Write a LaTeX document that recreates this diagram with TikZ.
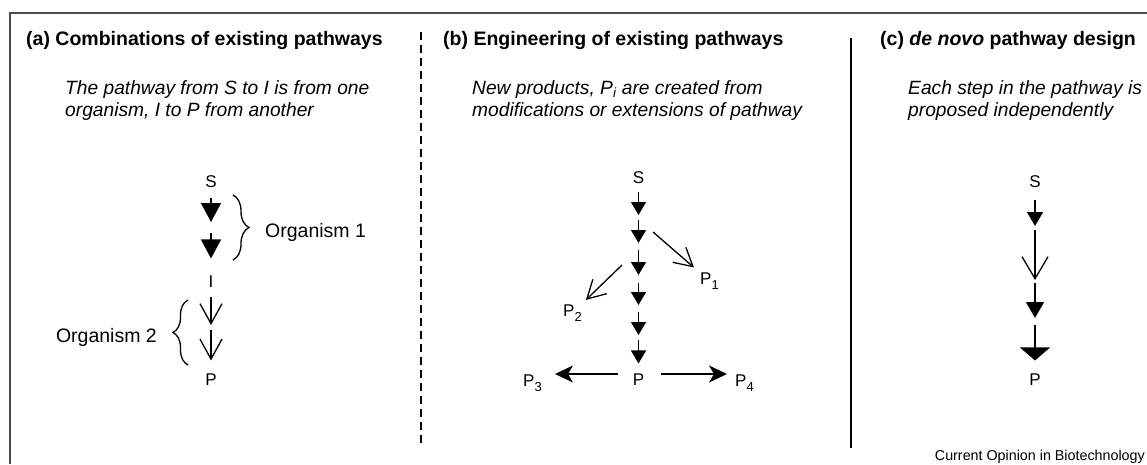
\documentclass[tikz,border=0pt]{standalone}
\usepackage{fontspec}
\setmainfont{Liberation Sans}
\usetikzlibrary{arrows.meta,decorations.pathreplacing}
\newcommand{\lowsub}[1]{\raisebox{-5.5pt}{\fontsize{13}{14}\selectfont #1}}
\begin{document}
\begin{tikzpicture}[x=1pt,y=-1pt,
  lbl/.style={inner sep=0pt, font=\fontsize{17}{20}\selectfont},
  ttl/.style={inner sep=0pt, anchor=base west, font=\fontsize{19.5}{22}\selectfont\bfseries},
  sub/.style={inner sep=0pt, anchor=north west, align=left, font=\fontsize{19.2}{22}\selectfont\itshape},
  orgl/.style={inner sep=0pt, font=\fontsize{19.5}{22}\selectfont},
  stem/.style={line width=1.4pt},
  fa/.style={stem, -{Triangle[length=19pt,width=20pt]}},
  oa/.style={line width=1.3pt, -{Straight Barb[length=20pt,width=22pt]}},
  fb/.style={stem, -{Triangle[length=13pt,width=15pt]}},
  ob/.style={line width=1.3pt, -{Straight Barb[length=18pt,width=20pt]}},
  sb/.style={line width=1.4pt, -{Stealth[length=18pt,width=17pt,inset=5pt]}},
  fcone/.style={stem, -{Triangle[length=14pt,width=16pt]}},
  oc/.style={line width=1.3pt, -{Straight Barb[length=22pt,width=26pt]}},
  fctwo/.style={stem, -{Triangle[length=16pt,width=18pt]}},
  fcthree/.style={stem, -{Triangle[length=13pt,width=30pt]}},
  bracestyle/.style={line width=1.3pt, decorate}
]
\useasboundingbox (0,0) rectangle (1147,464);
% frame and separators
\draw[line width=2pt, black!70] (10,464) -- (10,13) -- (1147,13);
\draw[line width=1.5pt, dash pattern=on 8pt off 5pt] (421,32) -- (421,445);
\draw[line width=1.3pt] (851,38) -- (851,448);

% titles
\node[ttl] (ta) at (26,45) {(a) Combinations of existing pathways};
\node[ttl] (tb) at (443,45) {(b) Engineering of existing pathways};
\node[ttl] (tc) at (880,45) {(c) \textit{de novo} pathway design};

% subtitles
\node[sub] (sa) at (65,80) {The pathway from S to I is from one\\organism, I to P from another};
\node[sub] (sbt) at (472,80) {New products, P\textsubscript{i} are created from\\modifications or extensions of pathway};
\node[sub] (sc) at (908,80) {Each step in the pathway is\\proposed independently};

% ---------- panel (a)
\node[lbl] (Sa) at (211,182) {S};
\node[lbl] (Ia) at (211,282) {I};
\node[lbl] (Pa) at (211,380) {P};
\coordinate (ja1) at (211,228);
\coordinate (ja3) at (211,327.5);
\draw[fa, shorten <=9.5pt, shorten >=6pt] (Sa) -- (ja1);
\draw[fa, shorten <=5pt, shorten >=17.5pt] (ja1) -- (Ia);
\draw[oa, shorten <=8.5pt, shorten >=2.5pt] (Ia) -- (ja3);
\draw[oa, shorten <=2.5pt, shorten >=13.5pt] (ja3) -- (Pa);
\draw[bracestyle, decoration={brace, amplitude=16pt}] (233,195) -- (233,260);
\draw[bracestyle, decoration={brace, amplitude=15pt}] (188,365) -- (188,300);
\node[orgl, anchor=west] (o1) at (265,232) {Organism 1};
\node[orgl, anchor=east] (o2) at (157,337) {Organism 2};

% ---------- panel (b)
\node[lbl] (Sb) at (638.5,178) {S};
\node[lbl] (Pb) at (638.5,380) {P};
\coordinate (b1) at (638.5,217.5);
\coordinate (b2) at (638.5,246.5);
\coordinate (b3) at (638.5,279);
\coordinate (b4) at (638.5,308.5);
\coordinate (b5) at (638.5,337.5);
\draw[fb, shorten <=7.5pt, shorten >=2.5pt] (Sb) -- (b1);
\draw[fb, shorten <=2.5pt, shorten >=3.5pt] (b1) -- (b2);
\draw[fb, shorten <=3.5pt, shorten >=4pt] (b2) -- (b3);
\draw[fb, shorten <=4pt, shorten >=3.5pt] (b3) -- (b4);
\draw[fb, shorten <=3.5pt, shorten >=2.5pt] (b4) -- (b5);
\draw[fb, shorten <=2.5pt, shorten >=10.5pt] (b5) -- (Pb);
\node[lbl, anchor=base west] (P1) at (700,284) {P\lowsub{1}};
\node[lbl, anchor=base west] (P2) at (563,316) {P\lowsub{2}};
\node[lbl, anchor=base west] (P3) at (523,386) {P\lowsub{3}};
\node[lbl, anchor=base west] (P4) at (735,386) {P\lowsub{4}};
\coordinate (c1) at (653,232);
\coordinate (c2) at (622,265);
\draw[ob, shorten >=8pt] (c1) -- (P1);
\draw[ob, shorten >=6pt] (c2) -- (P2);
\draw[sb, shorten <=15pt, shorten >=13pt] ([yshift=6pt]Pb.west) -- ([yshift=6pt]Pb.west -| P3.east);
\draw[sb, shorten <=17pt, shorten >=8pt] ([yshift=6pt]Pb.east) -- ([yshift=6pt]Pb.east -| P4.west);

% ---------- panel (c)
\node[lbl] (Sc) at (1035,182) {S};
\node[lbl] (Pc) at (1035,380) {P};
\coordinate (k1) at (1035,228);
\coordinate (k2) at (1035,281.5);
\coordinate (k3) at (1035,321.5);
\draw[fcone, shorten <=11.5pt, shorten >=2pt] (Sc) -- (k1);
\draw[oc, shorten <=2pt, shorten >=1.5pt] (k1) -- (k2);
\draw[fctwo, shorten <=1.5pt, shorten >=3.5pt] (k2) -- (k3);
\draw[fcthree, shorten <=3.5pt, shorten >=13.5pt] (k3) -- (Pc);

\node[inner sep=0pt, anchor=base east, font=\fontsize{14.3}{16}\selectfont] (cob) at (1145,460) {Current Opinion in Biotechnology};
\end{tikzpicture}
\end{document}
